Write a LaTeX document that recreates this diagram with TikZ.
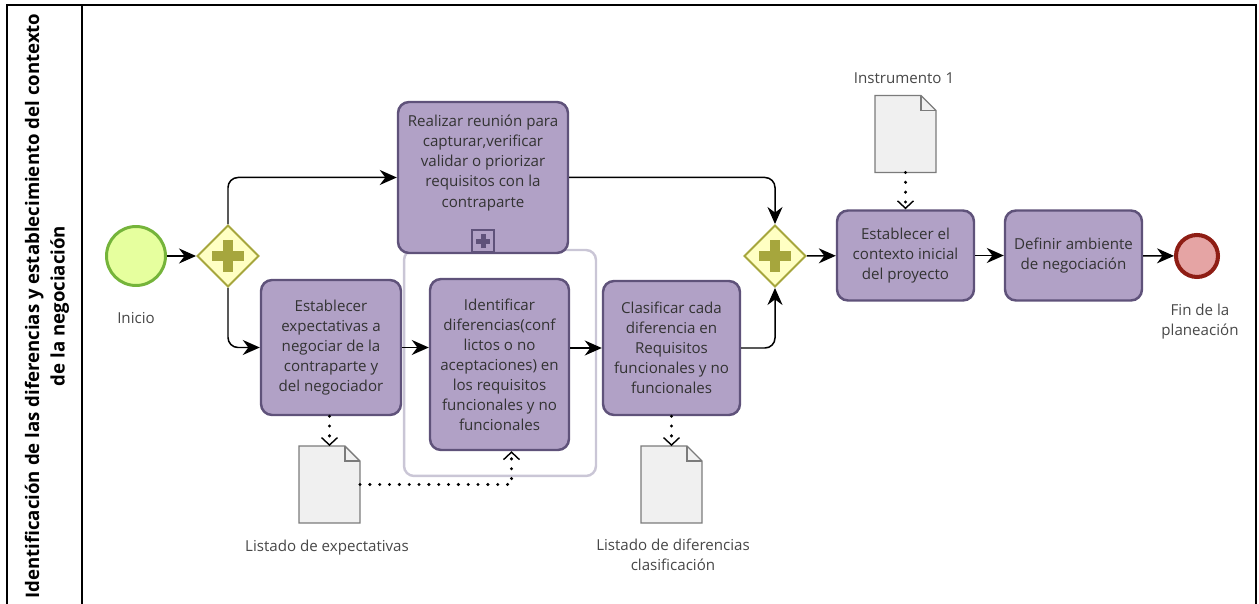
\documentclass[tikz,border=0pt]{standalone}
\usepackage{fontspec}
\setmainfont{Open Sans}
\usetikzlibrary{arrows.meta,calc,positioning,shapes.geometric}
\definecolor{taskfill}{HTML}{B1A1C6}
\definecolor{taskline}{HTML}{5F527A}
\definecolor{gwfill}{HTML}{FFFFC3}
\definecolor{gwline}{HTML}{A6A63D}
\definecolor{startfill}{HTML}{E6FF9E}
\definecolor{startline}{HTML}{75B43A}
\definecolor{endfill}{HTML}{E5A4A4}
\definecolor{endline}{HTML}{8E1D14}
\definecolor{docfill}{HTML}{F0F0F0}
\definecolor{docline}{HTML}{7B7B7B}
\definecolor{groupline}{HTML}{CAC6D6}
\definecolor{txt}{HTML}{333333}
\def\docpage(#1){\draw[docline, fill=docfill, line width=0.8pt] (#1.north west) -- ([xshift=-0.3cm]#1.north east) -- ([yshift=-0.3cm]#1.north east) -- (#1.south east) -- (#1.south west) -- cycle;
  \draw[docline, line width=0.8pt] ([xshift=-0.3cm]#1.north east) |- ([yshift=-0.3cm]#1.north east);}

\begin{document}
\begin{tikzpicture}[x=0.02cm, y=-0.02cm,
    task/.style={draw=taskline, fill=taskfill, line width=1.4pt, rounded corners=0.22cm, align=center, text=txt, font=\fontsize{8.6}{11.4}\selectfont},
    tasktext/.style={align=center, text=txt, font=\fontsize{8.6}{11.4}\selectfont},
    lbl/.style={align=center, text=txt!90, font=\fontsize{8.6}{11.4}\selectfont},
    gateway/.style={diamond, aspect=1, draw=gwline, fill=gwfill, line width=1.1pt, inner sep=0pt, minimum size=1.24cm,
      path picture={\draw[gwline, line width=0.19cm] ([xshift=-0.32cm]path picture bounding box.center) -- ([xshift=0.32cm]path picture bounding box.center)
        ([yshift=-0.32cm]path picture bounding box.center) -- ([yshift=0.32cm]path picture bounding box.center);}},
    doc/.style={minimum width=1.22cm, minimum height=1.54cm, inner sep=0pt, outer sep=0pt},
    seqflow/.style={-{Stealth[length=0.34cm, width=0.3cm]}, line width=0.85pt, rounded corners=0.2cm},
    assoc/.style={-{Straight Barb[length=0.15cm, width=0.32cm, line width=0.8pt]}, line width=1.9pt, dash pattern=on 0pt off 5.6pt, line cap=round},
  ]
  %%%%% START %%%%%
  \useasboundingbox (0,0) rectangle (1259,604);

  % pool frame
  \draw[line width=1.2pt] (7,604) -- (7,5) -- (1256,5) -- (1256,604);
  \draw[line width=1.2pt] (82,5) -- (82,604);
  \node[rotate=90, align=center, font=\fontsize{10.6}{14.6}\selectfont\bfseries] (lane) at (47,306)
    {Identificación de las diferencias y establecimiento del contexto\\de la negociación};

  % group
  \node[draw=groupline, line width=1.4pt, rounded corners=0.2cm, minimum width=3.84cm, minimum height=4.52cm] (grp) at (500,363) {};

  % events and gateways
  \node[circle, draw=startline, fill=startfill, line width=1.7pt, minimum size=1.18cm] (inicio) at (136,256) {};
  \node[lbl] (inicio-l) at (136,318) {Inicio};
  \node[gateway] (gw1) at (228,256) {};
  \node[gateway] (gw2) at (775,256) {};
  \node[circle, draw=endline, fill=endfill, line width=2.3pt, minimum size=0.84cm] (fin) at (1197,256) {};
  \node[lbl] (fin-l) at (1200,322) {Fin de la\\planeación};

  % tasks
  \node[task, minimum width=3.4cm, minimum height=3.02cm] (realizar) at (483,177.5) {};
  \node[tasktext] (realizar-t) at (483,163) {Realizar reunión para\\capturar,verificar\\validar o priorizar\\requisitos con la\\contraparte};
  \node[draw=taskline, line width=0.9pt, minimum size=0.44cm, inner sep=0pt, anchor=south,
    path picture={\draw[taskline, line width=0.1cm] ([xshift=-0.14cm]path picture bounding box.center) -- ([xshift=0.14cm]path picture bounding box.center)
      ([yshift=-0.14cm]path picture bounding box.center) -- ([yshift=0.14cm]path picture bounding box.center);}] (mark) at ([yshift=0.7pt]realizar.south) {};
  \node[task, minimum width=2.8cm, minimum height=2.7cm] (expect) at (331,347.5) {Establecer\\expectativas a\\negociar de la\\contraparte y\\del negociador};
  \node[task, minimum width=2.78cm, minimum height=3.42cm] (ident) at (499.5,364.5) {Identificar\\diferencias(conf\\lictos o no\\aceptaciones) en\\los requisitos\\funcionales y no\\funcionales};
  \node[task, minimum width=2.74cm, minimum height=2.68cm] (clasif) at (671.5,348) {Clasificar cada\\diferencia en\\Requisitos\\funcionales y no\\funcionales};
  \node[task, minimum width=2.74cm, minimum height=1.8cm] (contexto) at (905.5,255.5) {Establecer el\\contexto inicial\\del proyecto};
  \node[task, minimum width=2.74cm, minimum height=1.8cm] (definir) at (1073.5,255.5) {Definir ambiente\\de negociación};

  % data objects
  \node[doc] (instr) at (905.5,134) {};
  \docpage(instr)
  \node[lbl] (instr-l) at (904,78) {Instrumento 1};
  \node[doc] (docexp) at (329.5,484.5) {};
  \docpage(docexp)
  \node[lbl] (docexp-l) at (327,548) {Listado de expectativas};
  \node[doc] (docdif) at (671.5,484.5) {};
  \docpage(docdif)
  \node[lbl] (docdif-l) at (673,555) {Listado de diferencias\\clasificación};

  % sequence flows
  \draw[seqflow] (inicio) -- (gw1);
  \draw[seqflow] (gw1.north) |- (realizar.west);
  \draw[seqflow] (gw1.south) |- (expect.west);
  \draw[seqflow] (expect.east) -- (expect.east -| ident.west);
  \draw[seqflow] (clasif.west -| ident.east) -- (clasif.west);
  \draw[seqflow] (realizar.east) -| (gw2.north);
  \draw[seqflow] (clasif.east) -| (gw2.south);
  \draw[seqflow] (gw2) -- (contexto);
  \draw[seqflow] (contexto) -- (definir);
  \draw[seqflow] (definir) -- (fin);

  % associations
  \coordinate (identin) at ($(ident.south)+(12,0)$);
  \draw[assoc] (expect.south -| docexp.north) -- (docexp.north);
  \draw[assoc] (docexp.east) -| (identin);
  \draw[assoc] (clasif.south) -- (docdif.north);
  \draw[assoc] (instr.south) -- (contexto.north);

  %%%%% END %%%%%
\end{tikzpicture}
\end{document}
